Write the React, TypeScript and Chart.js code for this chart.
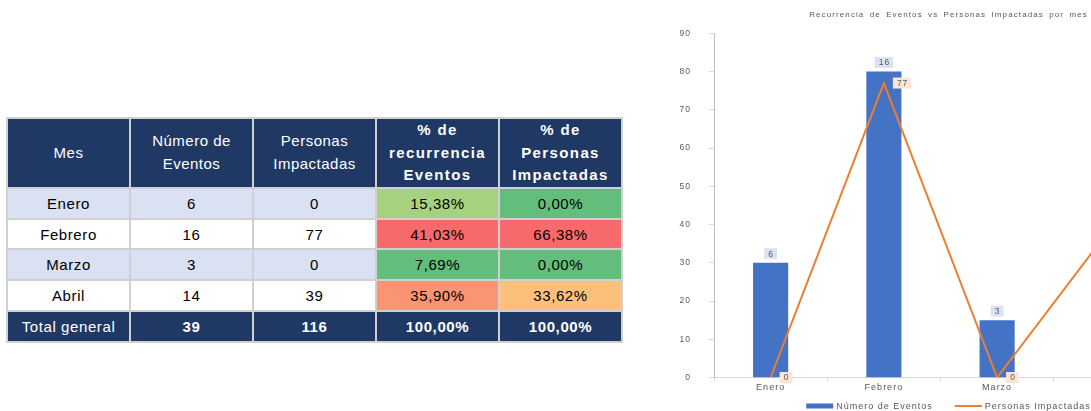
import React, { useEffect, useRef } from "react";
import { Chart, registerables } from "chart.js";
Chart.register(...registerables);

// ---------- data ----------
const meses = ["Enero", "Febrero", "Marzo", "Abril"];
const numeroEventos = [6, 16, 3, 14];
const personasImpactadas = [0, 77, 0, 39];
const pctRecurrencia = ["15,38%", "41,03%", "7,69%", "35,90%"];
const pctPersonas = ["0,00%", "66,38%", "0,00%", "33,62%"];
const totalEventos = 39;
const totalPersonas = 116;
const totalPctRecurrencia = "100,00%";
const totalPctPersonas = "100,00%";
const yMax = 90;
const yStep = 10;
const eventosAxisMax = 18;
const chartTitle = "Recurrencia de Eventos vs Personas Impactadas por mes";
const serieEventos = "Número de Eventos";
const seriePersonas = "Personas Impactadas";
const headerCols = ["Mes", "Número de\nEventos", "Personas\nImpactadas", "% de\nrecurrencia\nEventos", "% de\nPersonas\nImpactadas"];
const captionText = "Figura 2. Recurrencia de eventos agrupados por mes y personas impactadas por grupo (Enero - Abril),";

// ---------- styles ----------
const pctRecColors = ["#A6D17F", "#F8696B", "#63BE7B", "#FA9473"];
const pctPerColors = ["#63BE7B", "#F8696B", "#63BE7B", "#FDBF7C"];
const NAVY = "#203864";
const BAND = "#D9E1F2";
const BORDER = "#D0D0D0";
const FONT = "'Liberation Sans', Arial, sans-serif";
const GRAY = "#595959";

function ChartPanel() {
  const ref = useRef<HTMLCanvasElement>(null);
  useEffect(() => {
    const canvas = ref.current!;
    const fontPx = 8.5;
    const legendPx = 9;
    const setSpacing = (chart: any) => {
      (chart.ctx as any).letterSpacing = "1px";
    };
    const boxLabel = (ctx: CanvasRenderingContext2D, text: string, x: number, y: number, align: "center" | "left", fill: string) => {
      ctx.save();
      (ctx as any).letterSpacing = "1px";
      ctx.font = `${fontPx}px ${FONT}`;
      const w = ctx.measureText(text).width - 1;
      const bw = w + 8;
      const bh = 11;
      const left = align === "center" ? x - bw / 2 : x;
      ctx.fillStyle = fill;
      ctx.fillRect(left, y - bh / 2, bw, bh);
      ctx.fillStyle = GRAY;
      ctx.textBaseline = "middle";
      ctx.textAlign = "left";
      ctx.fillText(text, left + 4, y + 0.5);
      ctx.restore();
    };
    const plugin = {
      id: "customText",
      beforeUpdate: setSpacing,
      beforeLayout: setSpacing,
      beforeDraw: setSpacing,
      afterDatasetsDraw(chart: any) {
        const ctx = chart.ctx as CanvasRenderingContext2D;
        const barMeta = chart.getDatasetMeta(1);
        barMeta.data.forEach((bar: any, i: number) => {
          boxLabel(ctx, String(numeroEventos[i]), bar.x, bar.y - 9, "center", "#DAE3F3");
        });
        const lineMeta = chart.getDatasetMeta(0);
        lineMeta.data.forEach((pt: any, i: number) => {
          boxLabel(ctx, String(personasImpactadas[i]), pt.x + 9, pt.y, "left", "#FBE5D6");
        });
      },
      afterDraw(chart: any) {
        const ctx = chart.ctx as CanvasRenderingContext2D;
        const cx = chart.width / 2;
        ctx.save();
        // title
        (ctx as any).letterSpacing = "1.1px";
        (ctx as any).wordSpacing = "2px";
        ctx.font = `8px ${FONT}`;
        ctx.fillStyle = GRAY;
        ctx.textAlign = "center";
        ctx.textBaseline = "middle";
        ctx.fillText(chartTitle, cx, 15);
        // legend
        (ctx as any).letterSpacing = "1px";
        (ctx as any).wordSpacing = "0px";
        ctx.font = `${legendPx}px ${FONT}`;
        const t1 = ctx.measureText(serieEventos).width;
        const t2 = ctx.measureText(seriePersonas).width;
        const sym = 27, gap = 3, between = 22;
        const total = sym + gap + t1 + between + sym + gap + t2;
        let x = cx - total / 2;
        const y = 406;
        ctx.fillStyle = "#4472C4";
        ctx.fillRect(x, y - 2.5, sym, 5);
        x += sym + gap;
        ctx.fillStyle = GRAY;
        ctx.textAlign = "left";
        ctx.fillText(serieEventos, x, y + 0.5);
        x += t1 + between;
        ctx.strokeStyle = "#ED7D31";
        ctx.lineWidth = 2;
        ctx.beginPath();
        ctx.moveTo(x, y);
        ctx.lineTo(x + sym, y);
        ctx.stroke();
        x += sym + gap;
        ctx.fillText(seriePersonas, x, y + 0.5);
        ctx.restore();
      },
    };

    const chart = new Chart(canvas, {
      type: "bar",
      data: {
        labels: meses,
        datasets: [
          {
            type: "line",
            label: seriePersonas,
            data: personasImpactadas,
            borderColor: "#ED7D31",
            backgroundColor: "#ED7D31",
            borderWidth: 2,
            pointRadius: 0,
            tension: 0,
            yAxisID: "y",
            order: 0,
          } as any,
          {
            type: "bar",
            label: serieEventos,
            data: numeroEventos,
            backgroundColor: "#4472C4",
            barPercentage: 0.31,
            categoryPercentage: 1,
            yAxisID: "y2",
            order: 1,
          },
        ],
      },
      options: {
        responsive: false,
        maintainAspectRatio: false,
        animation: false,
        devicePixelRatio: 1,
        layout: { padding: { left: 14, right: 70, top: 33.3, bottom: 19.5 } },
        plugins: { legend: { display: false }, title: { display: false }, tooltip: { enabled: false } },
        scales: {
          x: {
            offset: true,
            grid: { display: true, drawOnChartArea: false, drawTicks: true, tickLength: 4, color: "#D9D9D9", offset: true },
            border: { display: true, color: "#D9D9D9" },
            ticks: { color: GRAY, font: { size: 9, family: FONT }, padding: 1, maxRotation: 0 },
            afterFit: (s: any) => { s.height = 14; },
          },
          y: {
            min: 0,
            max: yMax,
            ticks: { stepSize: yStep, color: GRAY, font: { size: fontPx, family: FONT }, padding: 18 },
            grid: { display: true, drawOnChartArea: false, drawTicks: true, tickLength: 5, color: "#D9D9D9" },
            border: { display: true, color: "#BFBFBF" },
            afterFit: (s: any) => { s.width = 40; },
          },
          y2: { display: false, min: 0, max: eventosAxisMax },
        },
      },
      plugins: [plugin],
    });
    return () => chart.destroy();
  }, []);
  return <canvas ref={ref} width={577} height={411} style={{ display: "block", width: 577, height: 411 }} />;
}

const cellBase: React.CSSProperties = {
  border: `2px solid ${BORDER}`,
  textAlign: "center",
  verticalAlign: "middle",
  padding: 0,
  fontFamily: FONT,
  fontSize: 15,
  letterSpacing: "0.6px",
  color: "#000",
};

function DataTable() {
  return (
    <table
      style={{
        position: "absolute",
        left: 6,
        top: 117,
        width: 617,
        borderCollapse: "collapse",
        tableLayout: "fixed",
      }}
    >
      <colgroup>
        {headerCols.map((_, i) => (
          <col key={i} style={{ width: 123 }} />
        ))}
      </colgroup>
      <tbody>
        <tr style={{ height: 70 }}>
          {headerCols.map((h, i) => (
            <td
              key={i}
              style={{
                ...cellBase,
                background: NAVY,
                color: "#fff",
                fontWeight: i >= 3 ? "bold" : "normal",
                letterSpacing: i >= 3 ? "1.4px" : "0.5px",
                lineHeight: "22.7px",
                whiteSpace: "pre-line",
              }}
            >
              {h}
            </td>
          ))}
        </tr>
        {meses.map((m, i) => {
          const band = i % 2 === 0 ? BAND : "#fff";
          return (
            <tr key={m} style={{ height: i === 1 ? 30 : 31 }}>
              <td style={{ ...cellBase, background: band }}>{m}</td>
              <td style={{ ...cellBase, background: band }}>{numeroEventos[i]}</td>
              <td style={{ ...cellBase, background: band }}>{personasImpactadas[i]}</td>
              <td style={{ ...cellBase, background: pctRecColors[i] }}>{pctRecurrencia[i]}</td>
              <td style={{ ...cellBase, background: pctPerColors[i] }}>{pctPersonas[i]}</td>
            </tr>
          );
        })}
        <tr style={{ height: 31 }}>
          <td style={{ ...cellBase, background: NAVY, color: "#fff" }}>Total general</td>
          <td style={{ ...cellBase, background: NAVY, color: "#fff", fontWeight: "bold" }}>{totalEventos}</td>
          <td style={{ ...cellBase, background: NAVY, color: "#fff", fontWeight: "bold" }}>{totalPersonas}</td>
          <td style={{ ...cellBase, background: NAVY, color: "#fff", fontWeight: "bold" }}>{totalPctRecurrencia}</td>
          <td style={{ ...cellBase, background: NAVY, color: "#fff", fontWeight: "bold" }}>{totalPctPersonas}</td>
        </tr>
      </tbody>
    </table>
  );
}

export default function App() {
  return (
    <div
      style={{
        position: "fixed",
        left: 0,
        top: 0,
        width: 1091,
        height: 411,
        overflow: "hidden",
        background: "#fff",
      }}
    >
      <div
        style={{
          position: "absolute",
          left: 4,
          top: -20,
          whiteSpace: "nowrap",
          fontFamily: "'Liberation Serif', 'Times New Roman', serif",
          fontWeight: "bold",
          fontSize: 16,
          lineHeight: "20px",
          color: "#000",
        }}
      >
        {captionText}
      </div>
      <DataTable />
      <div style={{ position: "absolute", left: 660, top: 0, width: 577, height: 411 }}>
        <ChartPanel />
      </div>
    </div>
  );
}
